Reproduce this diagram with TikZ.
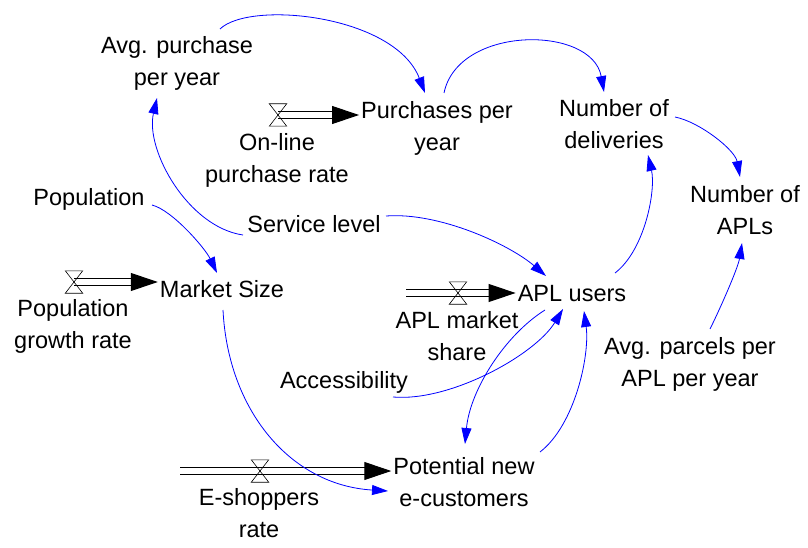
\documentclass[tikz,border=0pt]{standalone}
\usepackage{fontspec}
\setmainfont{Liberation Sans}
\usepackage{tikz}
\usetikzlibrary{arrows.meta,calc}
\definecolor{azul}{HTML}{0000FF}

% valve on a flow pipe
\newcommand\valvula[2]{%
  \node[valvula] (#1) at (#2) {};
  \draw[line width=0.6pt] (#1.north west) -- (#1.north east) -- (#1.south west) -- (#1.south east) -- cycle;}

\begin{document}
\begin{tikzpicture}[x=1pt, y=-1pt, font=\fontsize{23.5}{32}\selectfont,
  var/.style={align=center, inner sep=2pt},
  enlace/.style={-{Triangle[length=16pt, width=10pt]}, line width=0.8pt, color=azul},
  tubo/.style={double, double distance=6.5pt, line width=1pt, shorten >=22pt},
  punta/.style={draw=white, line width=1pt, -{Triangle[length=27pt, width=18pt, color=black]}},
  valvula/.style={inner sep=0pt, minimum width=17pt, minimum height=22pt}]
  \useasboundingbox (0,0) rectangle (808,548);
  \node[var] (avgpur)    at (177,63)  {Avg. purchase\\per year};
  \node[var] (purch)     at (437,128) {Purchases per\\year};
  \node[var] (deliv)     at (614,124) {Number of\\deliveries};
  \node[var] (napl)      at (745,210) {Number of\\APLs};
  \node[var] (popul)     at (89,199)  {Population};
  \node[var] (service)   at (314,224) {Service level};
  \node[var] (market)    at (222,289) {Market Size};
  \node[var] (users)     at (572,294) {APL users};
  \node[var] (accessib)  at (344,382) {Accessibility};
  \node[var] (parcels)   at (690,364) {Avg. parcels per\\APL per year};
  \node[var] (potential) at (464,482) {Potential new\\e-customers};
  \node[var] (online)    at (277,160) {On-line\\purchase rate};
  \node[var] (popgrowth) at (73,326)  {Population\\growth rate};
  \node[var] (share)     at (457,336) {APL market\\share};
  \node[var] (eshop)     at (259,513) {E-shoppers\\rate};
  % flows
  \coordinate (pv1) at (278,115);
  \coordinate (pv2) at (74,282);
  \coordinate (pv3) at (458,293);
  \coordinate (pv4) at (260,471);
  \coordinate (src3) at (406,293);
  \coordinate (src4) at (180,471);
  \draw[tubo] (pv1) -- (purch.west |- pv1);
  \draw[punta] (pv1) -- (purch.west |- pv1);
  \draw[tubo] (pv2) -- (market.west |- pv2);
  \draw[punta] (pv2) -- (market.west |- pv2);
  \draw[tubo] (src3) -- (users.west |- src3);
  \draw[punta] (src3) -- (users.west |- src3);
  \draw[tubo] (src4) -- (potential.west |- src4);
  \draw[punta] (src4) -- (potential.west |- src4);
  \valvula{v1}{pv1}
  \valvula{v2}{pv2}
  \valvula{v3}{pv3}
  \valvula{v4}{pv4}
  % links
  \draw[enlace] ($(avgpur)+(43,-34)$) .. controls +(30,-29) and +(-30,-78) .. ($(purch)+(-12,-35)$);
  \draw[enlace] ($(purch)+(7,-35)$) .. controls +(14,-68) and +(-12,-67) .. ($(deliv)+(-10,-32)$);
  \draw[enlace] ($(deliv)+(61,-7)$) .. controls +(25,5) and +(-5,-27) .. ($(napl)+(-5,-33)$);
  \draw[enlace] ($(users)+(43,-21)$) .. controls +(30,-23) and +(8,35) .. ($(deliv)+(34,31)$);
  \draw[enlace] ($(parcels)+(20,-35)$) .. controls +(10,-20) and +(-4,25) .. ($(napl)+(-3,33)$);
  \draw[enlace] ($(service)+(-71,11)$) .. controls +(-55,-8) and +(-12,52) .. ($(avgpur)+(-20,35)$);
  \draw[enlace] ($(service)+(72,-8)$) .. controls +(54,-4) and +(-36,-31) .. ($(users)+(-26,-18)$);
  \draw[enlace] ($(popul)+(63,6)$) .. controls +(20,5) and +(-12,-25) .. ($(market)+(-5,-16)$);
  \draw[enlace] ($(market)+(1,21)$) .. controls +(5,100) and +(-98,-6) .. ($(potential)+(-76,9)$);
  \draw[enlace] ($(users)+(-27,16)$) .. controls +(-40,25) and +(5,-54) .. ($(potential)+(1,-38)$);
  \draw[enlace] ($(accessib)+(49,15)$) .. controls +(57,5) and +(-28,46) .. ($(users)+(-9,15)$);
  \draw[enlace] ($(potential)+(76,-30)$) .. controls +(35,-27) and +(6,44) .. ($(users)+(12,17)$);
\end{tikzpicture}
\end{document}
